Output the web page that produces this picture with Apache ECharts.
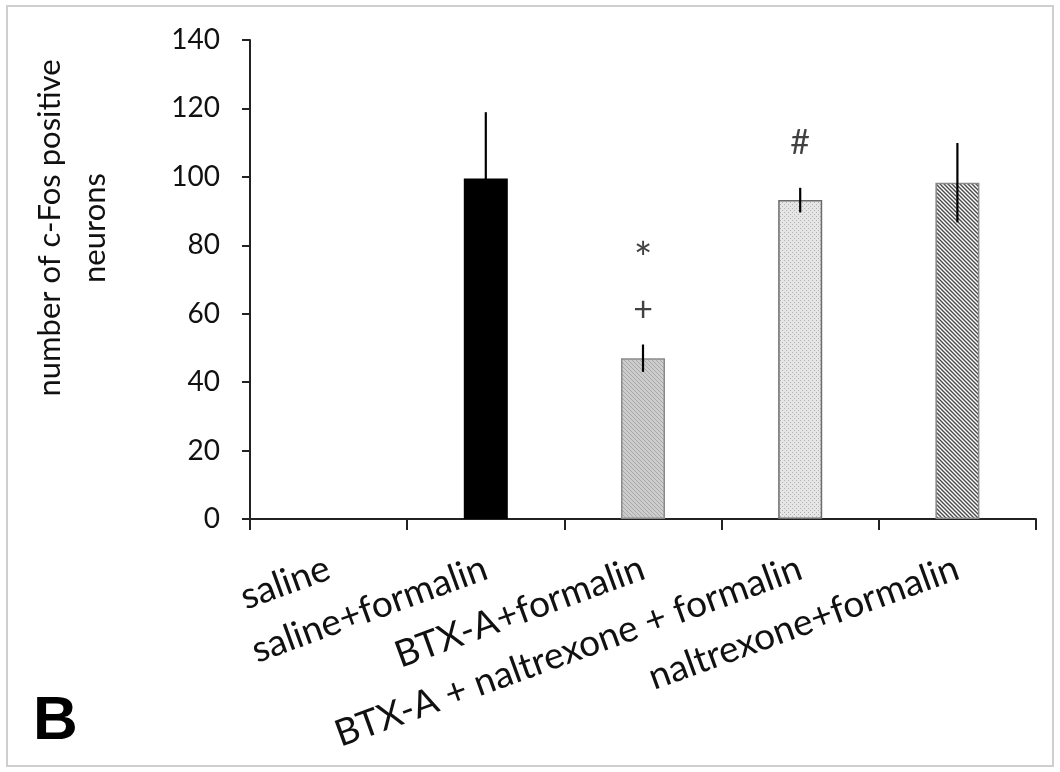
<!DOCTYPE html>
<html><head><meta charset="utf-8">
<script src="https://cdn.jsdelivr.net/npm/echarts@6/dist/echarts.min.js"></script>
<style>html,body{margin:0;padding:0;background:#fff}#c{width:1060px;height:772px}</style>
</head><body><div id="c"></div>
<script>
const categories = ['saline', 'saline+formalin', 'BTX-A+formalin', 'BTX-A + naltrexone + formalin', 'naltrexone+formalin'];
const means = [0, 99.5, 47, 93.2, 98.3];
const errors = [0, 19.4, 4, 3.6, 11.6];
const yTicks = [0, 20, 40, 60, 80, 100, 120, 140];
const marks = [[2, 78, '*'], [2, 61, '+'], [3, 110, '#']];

function pattern(bg, line, step, lw, dir, dots) {
  const c = document.createElement('canvas');
  c.width = step; c.height = step;
  const g = c.getContext('2d');
  g.fillStyle = bg; g.fillRect(0, 0, step, step);
  g.strokeStyle = line; g.fillStyle = line; g.lineWidth = lw;
  if (dots) {
    g.fillRect(0, 0, 1, 1); g.fillRect(step/2, step/2, 1, 1);
  } else {
    g.beginPath();
    if (dir > 0) {
      g.moveTo(-1, -1); g.lineTo(step + 1, step + 1);
      g.moveTo(-1, step - 1); g.lineTo(1, step + 1);
      g.moveTo(step - 1, -1); g.lineTo(step + 1, 1);
    } else {
      g.moveTo(-1, step + 1); g.lineTo(step + 1, -1);
      g.moveTo(-1, 1); g.lineTo(1, -1);
      g.moveTo(step - 1, step + 1); g.lineTo(step + 1, step - 1);
    }
    g.stroke();
  }
  return { image: c, repeat: 'repeat' };
}

const styles = [
  { color: '#000', borderColor: '#000' },
  { color: '#000', borderColor: '#000' },
  { color: pattern('#cdcdcd', '#a8a8a8', 4, 1, 1), borderColor: '#8a8a8a' },
  { color: pattern('#e6e6e6', '#b0b0b0', 4, 1, 1, true), borderColor: '#6a6a6a' },
  { color: pattern('#ffffff', '#4a4a4a', 4, 1.4, 1), borderColor: '#8a8a8a' }
];

const chart = echarts.init(document.getElementById('c'));
const FONT = 'Lato';
chart.setOption({
  animation: false,
  backgroundColor: '#fff',
  grid: { left: 250, right: 24, top: 40, bottom: 253, containLabel: false },
  xAxis: {
    type: 'category', data: categories,
    axisLine: { lineStyle: { color: '#222', width: 2 } },
    axisTick: { show: true, length: 11, alignWithLabel: false, lineStyle: { color: '#222', width: 2 } },
    axisLabel: { rotate: 20, margin: 48, color: '#111', fontSize: 37, fontFamily: FONT, interval: 0 }
  },
  yAxis: {
    type: 'value', min: 0, max: 140, interval: 20,
    axisLine: { show: true, lineStyle: { color: '#222', width: 2 } },
    axisTick: { show: true, length: 8, lineStyle: { color: '#222', width: 2 } },
    splitLine: { show: false },
    axisLabel: { margin: 30, color: '#111', fontSize: 28, fontFamily: FONT,
      formatter: v => yTicks.includes(v) ? String(v) : '' }
  },
  series: [
    {
      type: 'bar', barWidth: 44,
      data: means.map((v, i) => ({ value: v, itemStyle: { color: styles[i].color, borderColor: styles[i].borderColor, borderWidth: i === 0 ? 0 : 1.5 } }))
    },
    {
      type: 'custom', z: 5,
      data: means.map((v, i) => [i, v, errors[i]]),
      renderItem: function (params, api) {
        const i = api.value(0), m = api.value(1), e = api.value(2);
        if (!e) return null;
        const top = api.coord([i, m + e]);
        const bot = api.coord([i, m - e]);
        return { type: 'line', shape: { x1: top[0], y1: top[1], x2: bot[0], y2: bot[1] },
          style: { stroke: '#000', lineWidth: 2.2 } };
      }
    },
    {
      type: 'scatter', symbolSize: 0, z: 6,
      data: marks.map(m => ({ value: [m[0], m[1]], name: m[2],
        label: { fontSize: m[2] === '*' ? 44 : 34, offset: [0, m[2] === '*' ? 8 : 0] } })),
      label: { show: true, position: 'inside', formatter: p => p.name, color: '#111', fontFamily: FONT }
    }
  ],
  graphic: [
    { type: 'rect', shape: { x: 7, y: 6, width: 1046, height: 760 }, style: { fill: 'none', stroke: '#cfcfcf', lineWidth: 2 }, silent: true },
    { type: 'text', x: 72, y: 228, rotation: Math.PI / 2,
      style: { text: 'number of c-Fos positive\nneurons', fontSize: 31, fontFamily: FONT, fill: '#111',
        align: 'center', verticalAlign: 'middle', lineHeight: 45 } },
    { type: 'text', x: 33, y: 722,
      style: { text: 'B', fontSize: 62, fontWeight: 'bold', fontFamily: 'Liberation Sans', fill: '#000', verticalAlign: 'middle' } }
  ]
});
</script></body></html>
